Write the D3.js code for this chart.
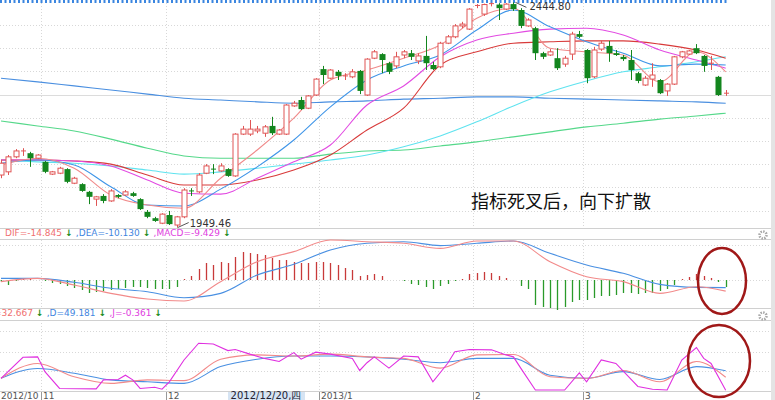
<!DOCTYPE html>
<html><head><meta charset="utf-8">
<script src="https://cdn.jsdelivr.net/npm/d3@7"></script>
<style>body{margin:0;background:#fff}svg{display:block}</style>
</head><body><div id="chart"></div>
<script>
var open = [2065,2072,2105,2116,2113,2102,2094,2067,2069,2078, 2047,2045,2028,2012,2019,2008,2021,2021,2025,2012, 1984,1970,1959,1977,1955,1973,2030,2028,2069,2078, 2074,2078,2063,2155,2155,2162,2157,2173,2155,2155, 2217,2230,2212,2241,2298,2278,2292,2281,2281,2294, 2241,2322,2331,2311,2305,2329,2333,2316,2327,2307, 2303,2355,2369,2393,2386,2436,2419,2440,2440,2430, 2441,2428,2393,2388,2333,2329,2322,2309,2331,2375, 2340,2281,2342,2349,2333,2325,2318,2289,2263,2276, 2274,2250,2265,2325,2331,2344,2327,2309,2281,2243]
var close = [2091,2105,2118,2118,2102,2109,2072,2072,2080,2050, 2058,2030,2017,2017,2008,2030,2017,2028,2019,1990, 1973,1964,1979,1957,1973,2032,2028,2065,2085,2076, 2085,2063,2155,2166,2166,2166,2171,2157,2164,2219, 2223,2210,2239,2276,2285,2296,2283,2283,2292,2250, 2320,2336,2318,2292,2325,2336,2325,2327,2311,2298, 2355,2369,2393,2397,2430,2438,2440,2442,2432,2441, 2430,2393,2406,2333,2325,2336,2300,2322,2375,2369, 2278,2340,2355,2333,2329,2320,2296,2272,2278,2285, 2245,2265,2325,2336,2338,2333,2305,2311,2241,2245]
var high = [2098,2109,2122,2124,2116,2111,2096,2074,2083,2080, 2061,2047,2030,2019,2023,2034,2023,2032,2028,2014, 1988,1973,1981,1986,1975,2036,2036,2069,2089,2089, 2091,2080,2157,2173,2186,2173,2175,2193,2166,2221, 2228,2237,2241,2278,2305,2298,2296,2289,2298,2296, 2322,2340,2333,2314,2336,2340,2340,2333,2371,2314, 2358,2373,2397,2402,2432,2441,2442,2444,2443,2443, 2444.8,2432,2410,2391,2336,2342,2344,2327,2380,2382, 2342,2347,2360,2360,2340,2329,2340,2292,2283,2311, 2276,2267,2327,2338,2340,2353,2329,2327,2283,2252]
var low = [2058,2065,2102,2107,2083,2100,2069,2065,2067,2047, 2045,2028,2001,1997,2003,2006,2014,2019,2017,1988, 1970,1962,1957,1955,1949.46,1970,2019,2025,2067,2067, 2072,2061,2061,2153,2151,2157,2149,2153,2153,2153, 2215,2208,2210,2239,2265,2276,2274,2274,2278,2243, 2239,2320,2289,2287,2300,2322,2318,2309,2296,2296, 2300,2353,2366,2388,2384,2432,2415,2436,2406,2428, 2426,2388,2391,2318,2320,2327,2296,2303,2318,2366, 2267,2278,2338,2314,2327,2316,2274,2267,2261,2259, 2243,2239,2263,2322,2329,2331,2292,2296,2239,2239]

// moving averages, read every 5 candles
var maIdx = [0,5,10,15,20,25,30,35,40,45,50,55,60,65,70,75,80,85,90,95,99]
var ma5 = [2087,2102,2080,2021,1999,1992,2058,2120,2190,2274,2296,2322,2351,2410,2432,2344,2336,2329,2270,2336,2292]
var ma10 = [2091,2098,2087,2039,1999,1997,2034,2083,2142,2215,2274,2305,2329,2384,2428,2391,2358,2333,2305,2309,2307]
var ma20 = [2098,2098,2096,2085,2054,2025,2023,2058,2094,2131,2219,2261,2325,2362,2377,2386,2388,2373,2340,2318,2300]
var ma30 = [2098,2098,2096,2089,2065,2043,2043,2054,2076,2109,2164,2212,2307,2336,2355,2358,2360,2360,2353,2340,2322]
var ma60 = [2098,2094,2091,2085,2076,2067,2072,2080,2089,2098,2109,2127,2151,2182,2217,2248,2272,2292,2303,2314,2325]
var ma120 = [2184,2173,2162,2144,2124,2107,2102,2102,2102,2111,2118,2120,2129,2138,2149,2160,2171,2179,2188,2195,2201]
var ma250 = [2278,2270,2261,2252,2243,2234,2230,2226,2223,2226,2228,2232,2234,2237,2237,2234,2232,2230,2228,2226,2223]

var macd = [-2.7,-6.7,-1.3,1.3,1.3,0,-1.3,-4,-5.3,-8, -10.7,-13.3,-17.3,-16,-14.7,-13.3,-12,-10.7,-9.3,-9.3, -10.7,-12,-12,-12,-9.3,1.3,5.3,14.7,22.7,20, 24,22.7,30.7,37.3,36,34.7,33.3,29.3,26.7,26.7, 24,22.7,22.7,24,24,22.7,20,16,13.3,5.3, 6.7,8,5.3,0,0,-1.3,-5.3,-6.7,-9.3,-12, -8,-5.3,-1.3,1.3,8,9.3,10.7,9.3,5.3,2.7, 0,-8,-12,-33.3,-36,-37.3,-40,-36,-29.3,-26.7, -26.7,-24,-21.3,-21.3,-20,-17.3,-17.3,-18.7,-17.3,-17.3, -14.7,-12,-6.7,1.3,4,8,5.3,2.7,-2.7,-9.4]
var dif = [-2.2,2.2,-6.7,-17.8,-25.3,-28,-2.2,24.4,37.8,53.3,51.1,48.9,42.2,52,52,24.4,4.4,-2.2,-17.8,-8.9,-14.8]
var dea = [2.2,2.2,-3.1,-11.1,-15.6,-23.6,-17.8,6.7,20.9,40,48.9,51.1,45.8,48.9,52,35.6,20,8.9,-5.8,-9.8,-10.1]

var kLine = [30,68,34,17,26,24,79,90,87,92,85,81,56,90,91,34,30,50,21,73,32.7]
var dLine = [30,55,43,26,21,17,60,79,87,87,85,79,70,81,81,38,30,47,27,60,49.2]
var jIdx = [0,3,5,6,8,13,14,16,17,18,19,21,22,23,25,27,29,31,32,34,36,38,40,41,43,45,48,49,50,51,53,55,57,59,61,62,64,67,69,70,71,73,77,79,80,82,84,87,89,91,93,95,96,97,99]
var jLine = [30,84,85,47,4,3,26,27,38,26,4,7,2,21,77,120,118,101,104,92,81,73,96,79,97,92,81,50,70,85,56,87,85,21,68,98,104,103,90,85,56,0,0,44,21,77,68,9,2,0,77,109,81,68,-0.36]

var monthLabels = ["2012/10","11","12","2013/1","2","3"]
var monthIdx = [0,6,23,44,65,80]

var W = 775, H = 400
var svg = d3.select("#chart").append("svg").attr("width", W).attr("height", H)
  .style("font-family", "Tahoma, 'DejaVu Sans', sans-serif")

var x = d3.scaleLinear().domain([0, 99]).range([1, 725.7])
var y = d3.scaleLinear().domain([1950, 2450]).range([227.3, 0])
var ym = d3.scaleLinear().domain([0, 10]).range([280, 272.5])
var yk = d3.scaleLinear().domain([0, 100]).range([390, 351])
var step = x(1) - x(0)
var right = 771

function hgrid(yy, dotted) {
  svg.append("line").attr("x1", 0).attr("x2", right).attr("y1", yy).attr("y2", yy)
    .attr("stroke", dotted ? "#d8d8d8" : "#dcdcdc").attr("stroke-dasharray", dotted ? "1,2" : null)
}
function vgrid(y1, y2) {
  monthIdx.slice(1).forEach(function(i) {
    var xx = Math.round(x(i) - step / 2) + 0.5
    svg.append("line").attr("x1", xx).attr("x2", xx).attr("y1", y1).attr("y2", y2)
      .attr("stroke", "#d8d8d8").attr("stroke-dasharray", "1,2")
  })
}

// main panel grid
d3.range(9).forEach(function(k) { var yy = 25 + k * 23.2; hgrid(Math.round(yy) + 0.5, k != 3) })
vgrid(0, 228)
vgrid(240, 308)
vgrid(320, 391)
;[228.5, 239.5, 308.5, 320.5, 391.5].forEach(function(yy) {
  svg.append("line").attr("x1", 0).attr("x2", right).attr("y1", yy).attr("y2", yy).attr("stroke", "#d0d0d0")
})
hgrid(245.5, true); hgrid(280.5, true)
hgrid(331.5, true); hgrid(352.5, true); hgrid(371.5, true)
svg.append("rect").attr("x", right).attr("y", 0).attr("width", 4).attr("height", H).attr("fill", "#e4e4e4")

// top dotted line
svg.append("line").attr("x1", 0).attr("x2", 727).attr("y1", 1.5).attr("y2", 1.5)
  .attr("stroke", "#3b86e0").attr("stroke-width", 3).attr("stroke-dasharray", "2,2.5")

// moving averages
function maLine(vals, color, idx, yy) {
  var pts = vals.map(function(v, k) { return [x((idx || maIdx)[k]), (yy || y)(v)] })
  svg.append("path").attr("d", d3.line().curve(d3.curveMonotoneX)(pts))
    .attr("fill", "none").attr("stroke", color).attr("stroke-width", 1.1)
}
maLine(ma250, "#4a8fe0")
maLine(ma120, "#55d88a")
maLine(ma60, "#5fe3ef")
maLine(ma30, "#d83a3a")
maLine(ma20, "#e24be2")
maLine(ma10, "#3f95e8")
maLine(ma5, "#f08a8a")

// candles
var idx = d3.range(open.length)
var g = svg.append("g")
idx.forEach(function(i) {
  var up = close[i] >= open[i]
  var col = up ? "#e05555" : "#13861e"
  var cx = Math.round(x(i)) + 0.5
  g.append("line").attr("x1", cx).attr("x2", cx).attr("y1", y(high[i])).attr("y2", y(low[i])).attr("stroke", col)
  var top = y(Math.max(open[i], close[i])), bot = y(Math.min(open[i], close[i]))
  if (bot - top < 1) {
    g.append("line").attr("x1", cx - 2.5).attr("x2", cx + 2.5).attr("y1", top).attr("y2", top).attr("stroke", col)
  } else if (up) {
    g.append("rect").attr("x", cx - 2.5).attr("y", top).attr("width", 5).attr("height", bot - top)
      .attr("fill", "#fff").attr("stroke", col)
  } else {
    g.append("rect").attr("x", cx - 3).attr("y", top).attr("width", 6).attr("height", bot - top).attr("fill", col)
  }
})

// high / low annotations
var lowI = d3.minIndex(low), highI = d3.maxIndex(high)
svg.append("line").attr("x1", x(lowI) + 1).attr("y1", y(low[lowI])).attr("x2", x(lowI) + 12).attr("y2", y(low[lowI]) - 5).attr("stroke", "#555")
svg.append("text").attr("x", x(lowI) + 13).attr("y", y(low[lowI]) - 1).attr("font-size", 10).attr("fill", "#333").text(d3.format(".2f")(low[lowI]))
svg.append("line").attr("x1", x(highI) + 2).attr("y1", y(high[highI])).attr("x2", x(highI) + 13).attr("y2", y(high[highI]) + 5).attr("stroke", "#555")
svg.append("text").attr("x", x(highI) + 16).attr("y", y(high[highI]) + 8).attr("font-size", 10).attr("fill", "#333").text(d3.format(".2f")(high[highI]))

svg.append("text").attr("x", 471).attr("y", 208).attr("font-size", 18)
  .attr("font-family", "'Noto Sans CJK SC'").attr("fill", "#111").text("指标死叉后，向下扩散")

// label rows
function labelRow(yy, x0, parts) {
  var t = svg.append("text").attr("x", x0).attr("y", yy).attr("font-size", 9)
  parts.forEach(function(p) {
    t.append("tspan").attr("fill", p[1]).text(p[0])
    t.append("tspan").attr("fill", "#1a8a1a").attr("font-weight", "bold").text(" ↓ ")
  })
}
labelRow(236, 5, [["DIF=-14.845", "#f07070"], [",DEA=-10.130", "#3f85e0"], [",MACD=-9.429", "#e040e0"]])
labelRow(316, -12, [["K=32.667", "#f07070"], [",D=49.181", "#3f85e0"], [",J=-0.361", "#e040e0"]])

// MACD panel
idx.forEach(function(i) {
  if (macd[i] == 0) return
  var cx = Math.round(x(i)) + 0.5
  svg.append("line").attr("x1", cx).attr("x2", cx).attr("y1", ym(0)).attr("y2", ym(macd[i]))
    .attr("stroke", macd[i] > 0 ? "#c83a3a" : "#2a9a2a").attr("stroke-width", 1.3)
})
maLine(dea, "#4a90e2", null, ym)
maLine(dif, "#f28a8a", null, ym)

// KDJ panel
maLine(dLine, "#4a90e2", null, yk)
maLine(kLine, "#f28a8a", null, yk)
svg.append("path").attr("d", d3.line()(jLine.map(function(v, k) { return [x(jIdx[k]), yk(v)] })))
  .attr("fill", "none").attr("stroke", "#e030e0").attr("stroke-width", 1.1)

// ellipses
svg.append("ellipse").attr("cx", 722).attr("cy", 281).attr("rx", 24).attr("ry", 33)
  .attr("fill", "none").attr("stroke", "#a01818").attr("stroke-width", 2.5)
svg.append("ellipse").attr("cx", 719).attr("cy", 361).attr("rx", 31).attr("ry", 36)
  .attr("fill", "none").attr("stroke", "#a01818").attr("stroke-width", 2.5)

// gears
;[235, 316].forEach(function(gy) {
  svg.append("circle").attr("cx", 763).attr("cy", gy).attr("r", 3.5).attr("fill", "none")
    .attr("stroke", "#aaa").attr("stroke-width", 2.5).attr("stroke-dasharray", "1.5,1.2")
  svg.append("circle").attr("cx", 763).attr("cy", gy).attr("r", 1.2).attr("fill", "#fff")
})

// date axis
svg.append("rect").attr("x", 228).attr("y", 392).attr("width", 77).attr("height", 8).attr("fill", "#d6e4f3")
svg.append("text").attr("x", 266).attr("y", 399).attr("text-anchor", "middle").attr("font-size", 10)
  .attr("fill", "#223").text("2012/12/20,四")
monthLabels.forEach(function(m, k) {
  var xx = k == 0 ? 1 : Math.round(x(monthIdx[k]) - step / 2) + 2
  svg.append("text").attr("x", xx).attr("y", 399).attr("font-size", 9).attr("fill", "#555").text(m)
  if (k > 0) svg.append("line").attr("x1", xx - 1.5).attr("x2", xx - 1.5).attr("y1", 392).attr("y2", 400).attr("stroke", "#999")
})
</script>
</body></html>
